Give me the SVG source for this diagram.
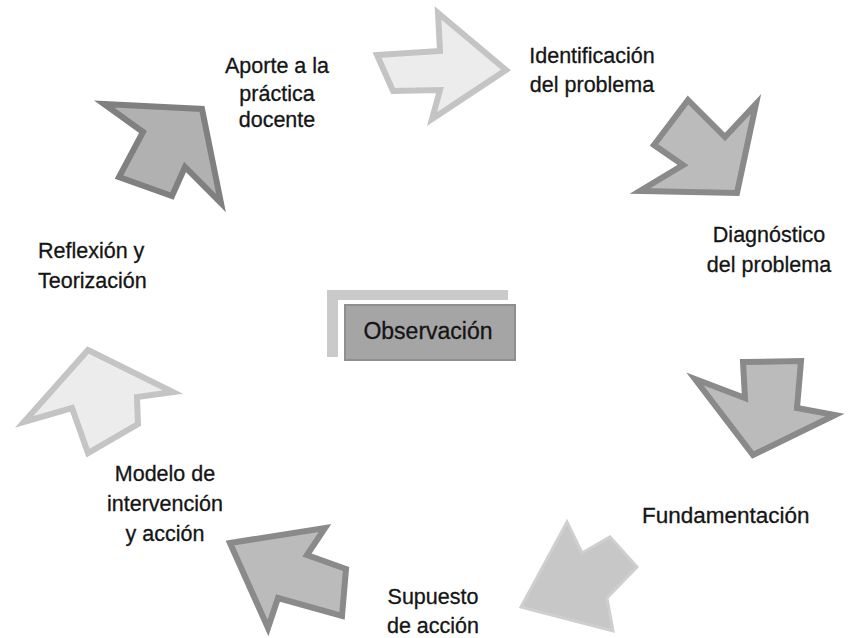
<svg xmlns="http://www.w3.org/2000/svg" width="849" height="638" viewBox="0 0 849 638">
<style>
.lbl{font-family:"Liberation Sans",Arial,sans-serif;font-size:21.5px;fill:#151515;stroke:#151515;stroke-width:0.3}
.mid{text-anchor:middle}
.light{fill:#ececec;stroke:#c4c4c4;stroke-width:6;stroke-linejoin:miter}
.dark{fill:#bbbbbb;stroke:#8a8a8a;stroke-width:6;stroke-linejoin:miter}
.soft{fill:#c7c7c7;stroke:#cfcfcf;stroke-width:3}
</style>
<rect width="849" height="638" fill="#ffffff"/>
<g id="connectors">
<polygon class="light" points="377,55 440,51 438,13 506,70 432,119 440,90 393,91"/>
<polygon class="dark" points="688,100 725,137 756,104 737,193 640,191 683,165 654,145"/>
<polygon class="dark" points="743,362 801,361 797,408 835,415 753,455 695,379 745,398"/>
<polygon class="soft" points="567,522 582,553 610,537 637,567 607,598 613,631 521,607"/>
<polygon class="dark" points="230,543 325,528 307,555 346,569 342,616 278,598 268,628"/>
<polygon class="light" points="88,350 173,392 137,397 138,424 88,453 72,408 24,422"/>
<polygon class="dark" style="fill:#b1b1b1;stroke:#808080" points="104,104 202,109 221,203 185,167 172,196 119,177 143,132"/>
</g>
<g id="observacion">
<polygon fill="#cacaca" points="327,290 508,290 508,300 338,300 338,357 327,357"/>
<rect x="345" y="305" width="170" height="55" fill="#a5a5a5" stroke="#8f8f8f" stroke-width="2"/>
<text class="lbl mid" x="428" y="339" style="font-size:23px">Observación</text>
</g>
<g id="aporte">
<text class="lbl mid" x="277" y="73">Aporte a la</text>
<text class="lbl mid" x="277" y="101">práctica</text>
<text class="lbl mid" x="277" y="127">docente</text>
</g>
<g id="identificacion">
<text class="lbl mid" x="592" y="63">Identificación</text>
<text class="lbl mid" x="592" y="92">del problema</text>
</g>
<g id="diagnostico">
<text class="lbl mid" x="769" y="242">Diagnóstico</text>
<text class="lbl mid" x="769" y="272">del problema</text>
</g>
<g id="fundamentacion">
<text class="lbl" x="642" y="523" style="font-size:22.5px">Fundamentación</text>
</g>
<g id="supuesto">
<text class="lbl mid" x="433" y="604">Supuesto</text>
<text class="lbl mid" x="433" y="633">de acción</text>
</g>
<g id="modelo">
<text class="lbl mid" x="165" y="481">Modelo de</text>
<text class="lbl mid" x="165" y="511">intervención</text>
<text class="lbl mid" x="165" y="541">y acción</text>
</g>
<g id="reflexion">
<text class="lbl" x="38" y="258">Reflexión y</text>
<text class="lbl" x="38" y="288">Teorización</text>
</g>
</svg>
